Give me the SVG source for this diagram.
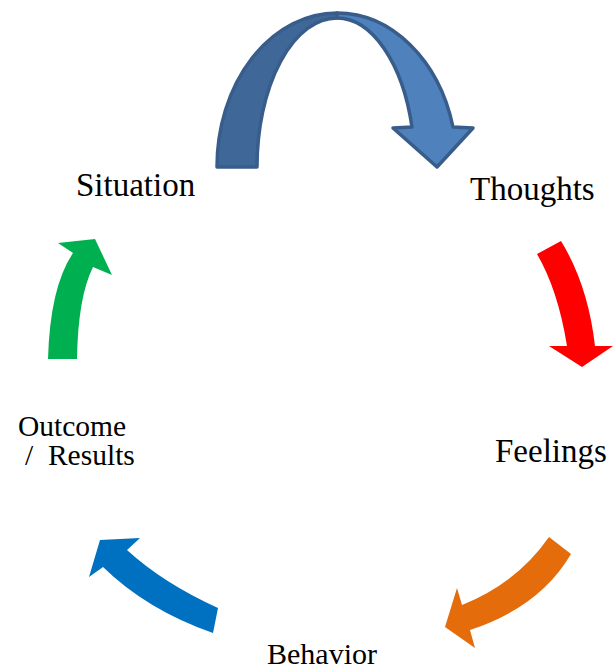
<svg xmlns="http://www.w3.org/2000/svg" width="616" height="669" viewBox="0 0 616 669">
<style>
.arch{stroke:#385D8A;stroke-width:3.5;stroke-linejoin:round}
</style>
<rect width="616" height="669" fill="#fff"/>
<g id="connectors">
  <g id="arch-arrow">
    <path class="arch" fill="#3F6899" d="M217,167 A120,154 0 0 1 337,13 L337,18 A80,149 0 0 0 257,167 Z"/>
    <path class="arch" fill="#4F81BD" d="M337,13 A120,154 0 0 1 453,127 L473,128 L437,167 L393,128 L412,127 A78,149 0 0 0 337,18 Z"/>
  </g>
  <path id="arrow-red" fill="#FF0000" d="M537,254 Q558,290 567,346 L549,346 L582,367 L613,346 L595,346 Q588,285 561,241 Z"/>
  <path id="arrow-orange" fill="#E46C0A" d="M549,537 Q517,583 462,605 L457,588 L445,627 L475,648 L470,630 Q540,607 571,554 Z"/>
  <path id="arrow-blue" fill="#0070C0" d="M218,608 Q163,583 127,550 L140,538 L100,540 L89,577 L103,567 Q147,610 213,633 Z"/>
  <path id="arrow-green" fill="#00B050" d="M48,359 Q50,287 73,253 L58,243 L95,239 L112,275 L93,267 Q78,297 77,359 Z"/>
</g>
<g id="situation"><text font-family="'Liberation Serif', 'Times New Roman', serif" x="76" y="196" font-size="33">Situation</text></g>
<g id="thoughts"><text font-family="'Liberation Serif', 'Times New Roman', serif" x="470" y="200" font-size="33">Thoughts</text></g>
<g id="feelings"><text font-family="'Liberation Serif', 'Times New Roman', serif" x="495" y="462" font-size="33">Feelings</text></g>
<g id="behavior"><text font-family="'Liberation Serif', 'Times New Roman', serif" x="267" y="664" font-size="30">Behavior</text></g>
<g id="outcome"><text font-family="'Liberation Serif', 'Times New Roman', serif" font-size="29.5"><tspan x="18" y="436">Outcome</tspan><tspan x="25" y="465" xml:space="preserve">/  Results</tspan></text></g>
</svg>
